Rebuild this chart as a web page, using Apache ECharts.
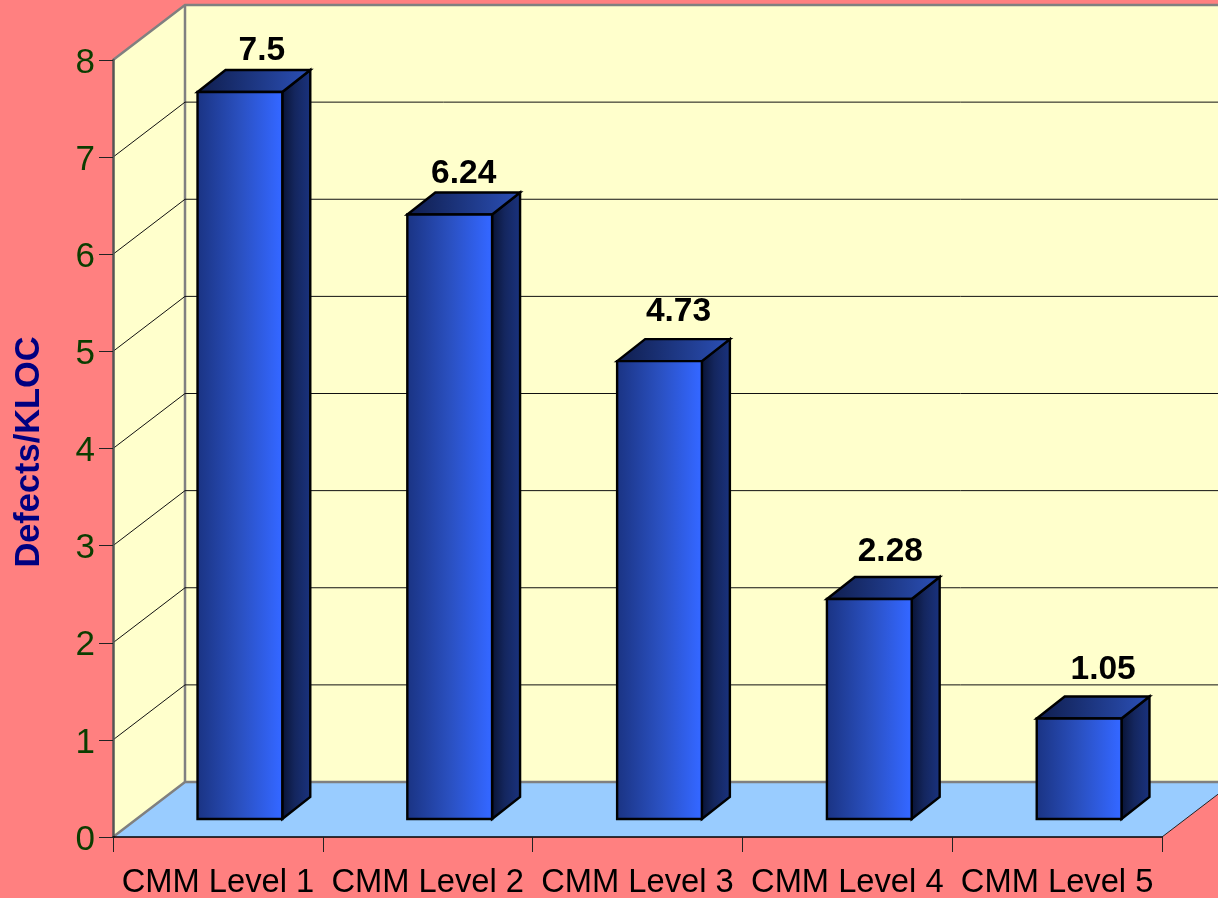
<!DOCTYPE html>
<html><head><meta charset="utf-8">
<style>html,body{margin:0;padding:0;background:#ff8080}#c{width:1218px;height:898px}</style>
<script src="https://cdn.jsdelivr.net/npm/echarts@6/dist/echarts.min.js"></script>
</head><body><div id="c"></div>
<script>
const categories = ['CMM Level 1','CMM Level 2','CMM Level 3','CMM Level 4','CMM Level 5'];
const defects = [7.5, 6.24, 4.73, 2.28, 1.05];
const gridValues = [1,2,3,4,5,6,7];
const yTitle = 'Defects/KLOC';

// oblique projection of the chart box
const WALL_DX = 72, WALL_DY = 55;
const BAR_DX = 22, BAR_DY = 18, BAR_TOP_INSET = 1.5, BAR_RATIO = 0.202, DEPTH_DX = 28, DEPTH_DY = 22;
const FONT = '"Liberation Sans", Arial, sans-serif';
const grad = (stops) => ({type:'linear',x:0,y:0,x2:1,y2:0,colorStops:stops.map((c,i)=>({offset:c[0],color:c[1]}))});

function renderRoom(params, api) {
  const r = params.coordSys, x0 = r.x, x1 = r.x + r.width, yT = r.y, yB = r.y + r.height;
  const bx0 = x0 + WALL_DX, bx1 = x1 + WALL_DX, byT = yT - WALL_DY, byB = yB - WALL_DY;
  const grey = '#808080';
  return {type:'group', children:[
    {type:'polygon', shape:{points:[[bx0,byT],[bx1,byT],[bx1,byB],[bx0,byB]]}, style:{fill:'#ffffcc'}},
    {type:'polygon', shape:{points:[[x0,yT],[bx0,byT],[bx0,byB],[x0,yB]]}, style:{fill:'#ffffcc'}},
    {type:'polygon', shape:{points:[[x0,yB],[bx0,byB],[bx1,byB],[x1,yB]]}, style:{fill:'#99ccff'}},
    {type:'polyline', shape:{points:[[x0,yT],[bx0,byT],[bx1,byT]]}, style:{fill:null,stroke:grey,lineWidth:2.5}},
    {type:'line', shape:{x1:bx0,y1:byT,x2:bx0,y2:byB}, style:{stroke:grey,lineWidth:2.5}},
    {type:'polyline', shape:{points:[[x0,yB],[bx0,byB],[bx1,byB]]}, style:{fill:null,stroke:grey,lineWidth:2.5}},
    {type:'line', shape:{x1:x1,y1:yB,x2:bx1,y2:byB}, style:{stroke:'#222',lineWidth:1}}
  ]};
}
function renderGrid(params, api) {
  const r = params.coordSys, y = api.coord([0, api.value(0)])[1];
  const pts = [[r.x, y],[r.x + WALL_DX, y - WALL_DY],[r.x + r.width + WALL_DX, y - WALL_DY]];
  return {type:'polyline', shape:{points:pts}, style:{fill:null, stroke:'#111', lineWidth:1}};
}
const labelNudge = [[1,1],[-7,1],[-2,-7],[0,-5],[3,-7]];
function renderBar(params, api) {
  const i = api.value(0), v = api.value(1);
  const base = api.coord([i, 0]), top = api.coord([i, v]);
  const half = api.size([1, 0])[0] * BAR_RATIO;
  const cx = base[0] + BAR_DX, l = cx - half, rr = cx + half;
  const b = base[1] - BAR_DY, t = top[1] - BAR_DY + BAR_TOP_INSET;
  const edge = {stroke:'#000', lineWidth:2.4, lineJoin:'miter'};
  const n = labelNudge[i];
  return {type:'group', children:[
    {type:'polygon', shape:{points:[[rr,t],[rr+DEPTH_DX,t-DEPTH_DY],[rr+DEPTH_DX,b-DEPTH_DY],[rr,b]]},
      style:Object.assign({fill:grad([[0,'#081232'],[0.45,'#14265e'],[1,'#1a3380']])},edge)},
    {type:'polygon', shape:{points:[[l,t],[l+DEPTH_DX,t-DEPTH_DY],[rr+DEPTH_DX,t-DEPTH_DY],[rr,t]]},
      style:Object.assign({fill:grad([[0,'#0f1d4c'],[1,'#2b50b8']])},edge)},
    {type:'rect', shape:{x:l,y:t,width:rr-l,height:b-t},
      style:Object.assign({fill:grad([[0,'#1a3382'],[0.5,'#2a50c0'],[0.95,'#3366ff'],[1,'#3366ff']])},edge)},
    {type:'text', x:cx+21+n[0], y:t-42+n[1], style:{text:String(v), fill:'#000', font:'bold 33.5px '+FONT, align:'center', verticalAlign:'middle'}}
  ]};
}

const chart = echarts.init(document.getElementById('c'), null, {renderer:'canvas'});
chart.setOption({
  backgroundColor:'#ff8080',
  animation:false,
  grid:{left:113,right:56,top:60,bottom:61,containLabel:false,outerBoundsMode:'none'},
  xAxis:{type:'category',data:categories,z:10,
    axisLine:{lineStyle:{color:'#000',width:1.5}},
    axisTick:{show:true,length:15,lineStyle:{color:'#222',width:1},alignWithLabel:false},
    axisLabel:{color:'#000',fontFamily:'Liberation Sans',fontSize:32.7,margin:29,interval:0,hideOverlap:false}},
  yAxis:{type:'value',min:0,max:8,interval:1,z:10,
    name:yTitle,nameLocation:'middle',nameGap:66,
    nameTextStyle:{color:'#000080',fontFamily:'Liberation Sans',fontWeight:'bold',fontSize:34.4,padding:[0,7,0,0]},
    axisLine:{show:true,lineStyle:{color:'#555',width:2.5}},
    axisTick:{show:true,length:14,lineStyle:{color:'#222',width:1}},
    axisLabel:{margin:18,hideOverlap:false,showMinLabel:true,showMaxLabel:true,
      formatter:'{t|{value}}',
      rich:{t:{color:'#0b3d00',fontFamily:'Liberation Sans',fontSize:35,padding:[6,0,0,0]}}},
    splitLine:{show:false}},
  series:[
    {type:'custom',z:1,silent:true,data:[[0]],encode:{x:-1,y:-1},renderItem:renderRoom},
    {type:'custom',z:2,silent:true,data:gridValues.map(v=>[v]),encode:{y:0,x:-1},renderItem:renderGrid},
    {type:'custom',z:3,silent:true,data:defects.map((v,i)=>[i,v]),encode:{x:0,y:1},renderItem:renderBar}
  ]
});
</script></body></html>
